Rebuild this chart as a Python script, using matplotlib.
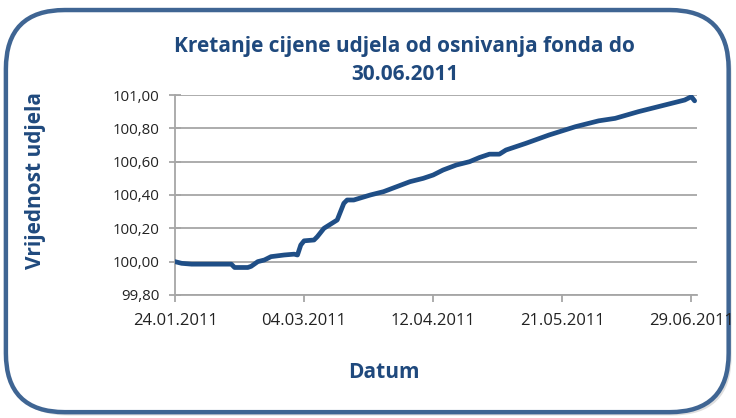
import matplotlib
matplotlib.use("Agg")
import matplotlib.pyplot as plt
import matplotlib.dates as mdates
from matplotlib.patches import FancyBboxPatch
from matplotlib.ticker import FuncFormatter
import pandas as pd

dates = ["2011-01-24", "2011-01-26", "2011-01-29", "2011-02-10", "2011-02-11",
         "2011-02-15", "2011-02-16", "2011-02-18", "2011-02-20", "2011-02-22",
         "2011-02-26", "2011-03-01", "2011-03-02", "2011-03-03", "2011-03-04",
         "2011-03-07", "2011-03-08", "2011-03-10", "2011-03-14", "2011-03-16",
         "2011-03-17", "2011-03-19", "2011-03-24", "2011-03-28", "2011-04-01",
         "2011-04-05", "2011-04-09", "2011-04-12", "2011-04-15", "2011-04-19",
         "2011-04-23", "2011-04-26", "2011-04-29", "2011-05-02", "2011-05-04",
         "2011-05-10", "2011-05-17", "2011-05-25", "2011-06-01", "2011-06-06",
         "2011-06-13", "2011-06-20", "2011-06-27", "2011-06-29", "2011-06-30"]
values = [100.00, 99.99, 99.985, 99.985, 99.965,
          99.965, 99.972, 100.00, 100.01, 100.03,
          100.04, 100.045, 100.04, 100.10, 100.125,
          100.13, 100.15, 100.20, 100.25, 100.35,
          100.37, 100.37, 100.40, 100.42, 100.45,
          100.48, 100.50, 100.52, 100.55, 100.58,
          100.60, 100.625, 100.645, 100.645, 100.67,
          100.71, 100.76, 100.81, 100.845, 100.86,
          100.90, 100.935, 100.97, 100.99, 100.965]
tick_dates = ["2011-01-24", "2011-03-04", "2011-04-12", "2011-05-21", "2011-06-29"]
y_ticks = [99.80, 100.00, 100.20, 100.40, 100.60, 100.80, 101.00]

title = "Kretanje cijene udjela od osnivanja fonda do\n30.06.2011"
x_label = "Datum"
y_label = "Vrijednost udjela"

navy = "#1f497d"
line_color = "#1f4e86"
grid_color = "#a6a6a6"

plt.rcParams["font.family"] = ["Open Sans", "DejaVu Sans"]

fig = plt.figure(figsize=(7.36, 4.18), dpi=100)

# rounded frame with a soft shadow, kept behind the axes
shadow = FancyBboxPatch((0.012, 0.006), 0.982, 0.96,
                        boxstyle="round,pad=0,rounding_size=0.08",
                        transform=fig.transFigure, facecolor="#c8c8c8",
                        edgecolor="none", alpha=0.6, mutation_aspect=736 / 418,
                        zorder=-2)
frame = FancyBboxPatch((0.008, 0.014), 0.982, 0.962,
                       boxstyle="round,pad=0,rounding_size=0.08",
                       transform=fig.transFigure, facecolor="white",
                       edgecolor="#3f6593", linewidth=3.2, mutation_aspect=736 / 418,
                       zorder=-1)
fig.patches.extend([shadow, frame])

ax = fig.add_axes([0.2378, 0.2943, 0.709, 0.4784])
ax.set_zorder(2)
ax.patch.set_alpha(0)
x = pd.to_datetime(dates)
ax.plot(x, values, color=line_color, linewidth=3.4, solid_capstyle="round",
        solid_joinstyle="round", zorder=3)

ax.set_xlim(pd.Timestamp("2011-01-24"), pd.Timestamp("2011-06-30") + pd.Timedelta(hours=16))
ax.set_ylim(99.80, 101.00)
ax.set_xticks(pd.to_datetime(tick_dates))
ax.xaxis.set_major_formatter(mdates.DateFormatter("%d.%m.%Y"))
ax.set_yticks(y_ticks)
ax.yaxis.set_major_formatter(FuncFormatter(lambda v, p: f"{v:.2f}".replace(".", ",")))

ax.grid(axis="y", color=grid_color, linewidth=1.3)
ax.set_axisbelow(True)
for side in ["top", "right"]:
    ax.spines[side].set_visible(False)
for side in ["left", "bottom"]:
    ax.spines[side].set_color(grid_color)
    ax.spines[side].set_linewidth(1.3)
ax.tick_params(axis="x", direction="out", length=5, color=grid_color, width=1.3,
               labelsize=12, labelcolor="#222222", pad=8)
ax.tick_params(axis="y", direction="inout", length=8, color=grid_color, width=1.3,
               labelsize=10.8, labelcolor="#222222", pad=7)

fig.text(0.55, 0.855, title, ha="center", va="center", fontsize=15,
         fontweight="bold", color=navy, linespacing=1.45)
fig.text(0.048, 0.569, y_label, rotation=90, ha="center", va="center",
         fontsize=15, fontweight="bold", color=navy)
fig.text(0.522, 0.11, x_label, ha="center", va="center", fontsize=15,
         fontweight="bold", color=navy)

fig.savefig("out.png", dpi=100)
